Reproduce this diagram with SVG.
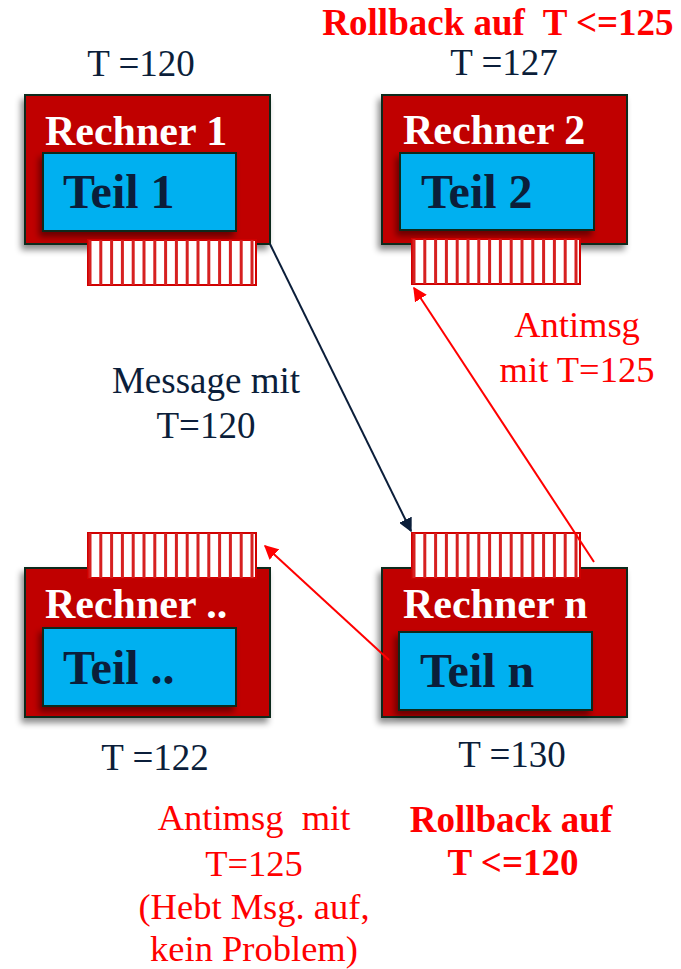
<svg xmlns="http://www.w3.org/2000/svg" width="681" height="969" viewBox="0 0 681 969">
  <style>
    .rechner { fill: #c00000; stroke: #0b2a1c; stroke-width: 2; }
    .teil { fill: #00b0f0; stroke: #0b2a1c; stroke-width: 2; }
    .rlabel { font-family: "Liberation Serif", "Times New Roman", serif; font-weight: bold; font-size: 42px; fill: #ffffff; }
    .tlabel { font-family: "Liberation Serif", "Times New Roman", serif; font-weight: bold; font-size: 48px; fill: #0b1e3a; }
    .time { font-family: "Liberation Serif", "Times New Roman", serif; font-size: 37px; fill: #0b1e3a; text-anchor: middle; }
    .note { font-family: "Liberation Serif", "Times New Roman", serif; font-size: 36.5px; fill: #ff0000; text-anchor: middle; }
    .rollback { font-family: "Liberation Serif", "Times New Roman", serif; font-weight: bold; font-size: 37px; fill: #ff0000; text-anchor: middle; }
    .msg { stroke: #0b1e3a; stroke-width: 2; fill: none; }
    .anti { stroke: #ff0000; stroke-width: 2; fill: none; }
  </style>
  <defs>
    <filter id="shadow" x="-20%" y="-20%" width="140%" height="150%">
      <feDropShadow dx="-3" dy="5" stdDeviation="3" flood-color="#000000" flood-opacity="0.45"/>
    </filter>
    <!-- message queue: striped buffer -->
    <g id="queue">
      <rect x="0" y="0" width="168" height="45" fill="#ffffff" stroke="#d00000" stroke-width="2"/>
      <path d="M2 0V45M12.8 0V45M23.6 0V45M34.4 0V45M45.2 0V45M56 0V45M66.8 0V45M77.6 0V45M88.4 0V45M99.2 0V45M110 0V45M120.8 0V45M131.6 0V45M142.4 0V45M153.2 0V45M164 0V45" stroke="#d62020" stroke-width="3"/>
    </g>
    <marker id="arrDark" viewBox="0 0 10 10" refX="9" refY="5" markerWidth="7" markerHeight="7" markerUnits="strokeWidth" orient="auto">
      <path d="M0 0L10 5L0 10z" fill="#0b1e3a"/>
    </marker>
    <marker id="arrRed" viewBox="0 0 10 10" refX="9" refY="5" markerWidth="7" markerHeight="7" markerUnits="strokeWidth" orient="auto">
      <path d="M0 0L10 5L0 10z" fill="#ff0000"/>
    </marker>
  </defs>

  <rect width="681" height="969" fill="#ffffff"/>

  <!-- Rechner 1 -->
  <g id="rechner1">
    <rect class="rechner" x="25" y="95" width="245" height="149" filter="url(#shadow)"/>
    <text class="rlabel" x="45" y="145">Rechner 1</text>
    <rect class="teil" x="43" y="153" width="193" height="78" filter="url(#shadow)"/>
    <text class="tlabel" x="63" y="208">Teil 1</text>
    <use href="#queue" x="88" y="240"/>
  </g>

  <!-- Rechner 2 -->
  <g id="rechner2">
    <rect class="rechner" x="382" y="95" width="245" height="149" filter="url(#shadow)"/>
    <text class="rlabel" x="403" y="144">Rechner 2</text>
    <rect class="teil" x="400" y="153" width="194" height="77" filter="url(#shadow)"/>
    <text class="tlabel" x="421" y="208">Teil 2</text>
    <use href="#queue" x="412" y="239"/>
  </g>

  <!-- Rechner .. -->
  <g id="rechnerX">
    <rect class="rechner" x="25" y="568" width="245" height="149" filter="url(#shadow)"/>
    <use href="#queue" x="88" y="533"/>
    <text class="rlabel" x="45" y="618">Rechner ..</text>
    <rect class="teil" x="43" y="628" width="193" height="78" filter="url(#shadow)"/>
    <text class="tlabel" x="63" y="684">Teil ..</text>
  </g>

  <!-- Rechner n -->
  <g id="rechnerN">
    <rect class="rechner" x="382" y="568" width="245" height="149" filter="url(#shadow)"/>
    <use href="#queue" x="412" y="533"/>
    <text class="rlabel" x="403" y="618">Rechner n</text>
    <rect class="teil" x="399" y="632" width="193" height="78" filter="url(#shadow)"/>
    <text class="tlabel" x="420" y="687">Teil n</text>
  </g>

  <!-- connectors -->
  <g id="connectors">
    <line class="msg" x1="270" y1="244" x2="411" y2="531" marker-end="url(#arrDark)"/>
    <line class="anti" x1="594" y1="562" x2="414" y2="288" marker-end="url(#arrRed)"/>
    <line class="anti" x1="389" y1="660" x2="265" y2="546" marker-end="url(#arrRed)"/>
  </g>

  <!-- labels -->
  <g id="labels">
    <text class="rollback" x="498" y="35" xml:space="preserve">Rollback auf  T &lt;=125</text>
    <text class="time" x="141" y="76">T =120</text>
    <text class="time" x="504" y="75">T =127</text>
    <text class="time" x="206" y="393">Message mit</text>
    <text class="time" x="206" y="438">T=120</text>
    <text class="note" x="577" y="337">Antimsg</text>
    <text class="note" x="577" y="382">mit T=125</text>
    <text class="time" x="155" y="770">T =122</text>
    <text class="time" x="512" y="767">T =130</text>
    <text class="note" x="254" y="830" xml:space="preserve">Antimsg  mit</text>
    <text class="note" x="254" y="876">T=125</text>
    <text class="note" x="254" y="919">(Hebt Msg. auf,</text>
    <text class="note" x="254" y="961">kein Problem)</text>
    <text class="rollback" x="511" y="832">Rollback auf</text>
    <text class="rollback" x="513" y="875">T &lt;=120</text>
  </g>
</svg>
